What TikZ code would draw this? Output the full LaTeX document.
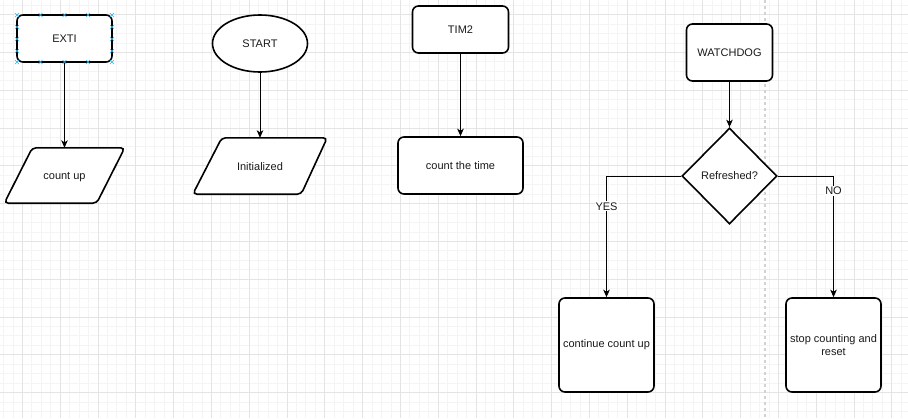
\documentclass[tikz,border=0pt]{standalone}
\usepackage{fontspec}
\setmainfont{Liberation Sans}
\usetikzlibrary{shapes.geometric,arrows.meta}
\definecolor{gminor}{HTML}{F4F4F4}
\definecolor{gmajor}{HTML}{E4E4E4}
\definecolor{pagebrk}{HTML}{D2D2D2}
\definecolor{txt}{HTML}{1A1A1A}
\definecolor{sel}{HTML}{29B6F2}
\begin{document}
\begin{tikzpicture}[x=1pt,y=-1pt,
  font=\fontsize{11}{13}\selectfont, text=txt,
  shapeline/.style={draw=black, line width=1.6pt},
  box/.style={shapeline, rounded corners=6pt, fill=white, inner sep=0pt, align=center},
  parabox/.style={shapeline, rounded corners=4pt, fill=white},
  paratext/.style={inner sep=0pt, align=center},
  oval/.style={shapeline, ellipse, fill=white, inner sep=0pt, minimum width=95pt, minimum height=57pt},
  decision/.style={shapeline, diamond, fill=white, inner sep=0pt, minimum width=95pt, minimum height=96pt},
  conn/.style={draw=black, line width=0.9pt, -{Stealth[length=7.5pt,width=6.5pt,inset=2pt]}},
  lbl/.style={fill=white, inner sep=1pt, font=\fontsize{11}{13}\selectfont},
  handle/.style={draw=sel, line width=0.7pt}
]
\useasboundingbox (0,0) rectangle (908,418);
\fill[white] (0,0) rectangle (908,418);
% grid
\foreach \i in {0,...,95}{
  \pgfmathsetmacro\xx{3.4+\i*9.45}
  \draw[gminor, line width=0.7pt] (\xx,0) -- (\xx,418);
}
\foreach \j in {0,...,43}{
  \pgfmathsetmacro\yy{5.05+\j*9.45}
  \draw[gminor, line width=0.7pt] (0,\yy) -- (908,\yy);
}
\foreach \i in {0,...,23}{
  \pgfmathsetmacro\xx{22.3+\i*37.8}
  \draw[gmajor, line width=0.8pt] (\xx,0) -- (\xx,418);
}
\foreach \j in {0,...,10}{
  \pgfmathsetmacro\yy{14.5+\j*37.8}
  \draw[gmajor, line width=0.8pt] (0,\yy) -- (908,\yy);
}
% page break
\draw[pagebrk, line width=1.3pt, dash pattern=on 3pt off 3pt] (765,0) -- (765,418);

% EXTI column
\node[box, minimum width=95pt, minimum height=47pt] (exti) at (64.5,38.5) {EXTI};
\node[paratext, minimum width=120pt, minimum height=55pt] (cu) at (64.5,175.5) {};
\draw[parabox] ([xshift=28pt]cu.north west) -- (cu.north east) -- ([xshift=-28pt]cu.south east) -- (cu.south west) -- cycle;
\node[paratext] at ([yshift=-1.5pt]cu.center) {count up};
\draw[conn] (exti.south) -- (cu.north);
% selection handles
\foreach \hx/\hy in {17/15,40.5/15,64.5/15,88/15,112/15,17/62,40.5/62,64.5/62,88/62,112/62,17/27,17/39,17/51,112/27,112/39,112/51}{
  \draw[handle] (\hx-2,\hy-2) -- (\hx+2,\hy+2) (\hx-2,\hy+2) -- (\hx+2,\hy-2);
}

% START column
\node[oval] (start) at (260,43.5) {START};
\node[paratext, minimum width=134pt, minimum height=56pt] (init) at (260,166) {};
\draw[parabox] ([xshift=29pt]init.north west) -- (init.north east) -- ([xshift=-26pt]init.south east) -- (init.south west) -- cycle;
\node[paratext] at ([yshift=-1pt]init.center) {Initialized};
\draw[conn] (start.south) -- (init.north);

% TIM2 column
\node[box, minimum width=96pt, minimum height=47pt] (tim) at (460.5,29.5) {TIM2};
\node[box, minimum width=125pt, minimum height=57pt] (time) at (460.5,165.5) {count the time};
\draw[conn] (tim.south) -- (time.north);

% WATCHDOG column
\node[box, minimum width=86pt, minimum height=57pt] (wd) at (729.5,52.5) {WATCHDOG};
\node[decision] (ref) at (729.5,176) {Refreshed?};
\node[box, minimum width=95pt, minimum height=94pt] (cont) at (606.5,345) {continue count up};
\node[box, minimum width=95pt, minimum height=94pt] (stop) at (833.5,345) {stop counting and\\reset};
\draw[conn] (wd.south) -- (ref.north);
\draw[conn] (ref.west) -| node[lbl, pos=0.625] {YES} (cont.north);
\draw[conn] (ref.east) -| node[lbl, pos=0.562] {NO} (stop.north);
\end{tikzpicture}
\end{document}
